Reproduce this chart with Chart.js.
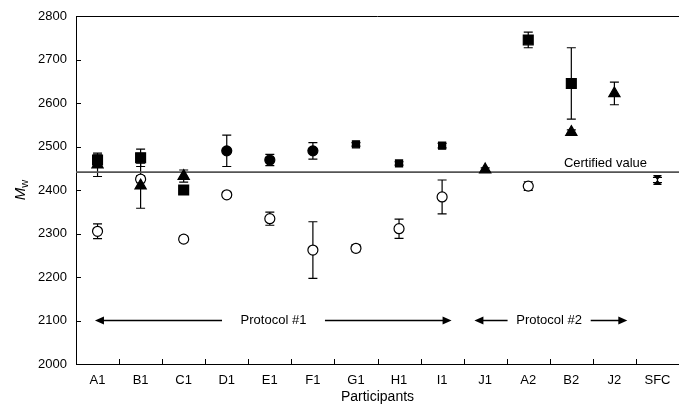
<!DOCTYPE html>
<html>
<head>
<meta charset="utf-8">
<script src="https://cdn.jsdelivr.net/npm/chart.js@4.4.0/dist/chart.umd.min.js"></script>
<style>
  html, body { margin: 0; padding: 0; background: #fff; }
  #wrap { width: 679px; height: 408px; }
</style>
</head>
<body>
<div id="wrap"><canvas id="mwChart"></canvas></div>
<script>
// Participants and values (Mw, with +/- error)
const participants = ['A1', 'B1', 'C1', 'D1', 'E1', 'F1', 'G1', 'H1', 'I1', 'J1', 'A2', 'B2', 'J2', 'SFC'];
const yTicks = [2000, 2100, 2200, 2300, 2400, 2500, 2600, 2700, 2800];
const certifiedValue = 2441;

const squareVals  = [2469, 2474, 2400, null, null, null, null, null, null, null, 2745, 2645, null, null];
const squareErr   = [12,   20,   4,    null, null, null, null, null, null, null, 18,   82,   null, null];
const smallSqVals = [null, null, null, null, null, null, 2505, 2461, 2502, null, null, null, null, null];
const smallSqErr  = [null, null, null, null, null, null, 4,    4,    5,    null, null, null, null, null];
const circleVals  = [null, null, null, 2490, 2469, 2490, null, null, null, null, null, null, null, null];
const circleErr   = [null, null, null, 36,   13,   19,   null, null, null, null, null, null, null, null];
const triVals     = [2458, 2410, 2432, null, null, null, null, null, null, 2447, null, 2533, 2622, null];
const triErr      = [27,   52,   14,   null, null, null, null, null, null, 4,    null, 5,    26,   null];
const openVals    = [2305, 2425, 2287, 2389, 2334, 2262, 2266, 2311, 2384, null, 2409, null, null, null];
const openErr     = [17,   8,    7,    6,    15,   65,   8,    22,   39,   null, 10,   null, null, null];
const sfcVals     = [null, null, null, null, null, null, null, null, null, null, null, null, null, 2423];
const sfcErr      = [null, null, null, null, null, null, null, null, null, null, null, null, null, 6];

// protocol arrows, in category units
const protocols = [
    { label: 'Protocol #1', from: -0.06, to: 8.22, gapFrom: 2.89, gapTo: 5.28, value: 2100 },
    { label: 'Protocol #2', from: 8.75, to: 12.3, gapFrom: 9.52, gapTo: 11.45, value: 2100 }
];

const FONT = '"Liberation Sans", Arial, Helvetica, sans-serif';

function series(data, err, style, radius, fill) {
    return {
        data: data,
        errors: err,
        showLine: false,
        pointStyle: style,
        pointRadius: radius,
        pointHoverRadius: radius,
        pointBackgroundColor: fill,
        pointBorderColor: '#000',
        pointBorderWidth: 1.2
    };
}

const errorBarsPlugin = {
    id: 'errorBars',
    beforeDatasetsDraw(chart) {
        const { ctx, scales: { x, y } } = chart;
        ctx.save();
        ctx.strokeStyle = '#000';
        ctx.lineWidth = 1.2;
        chart.data.datasets.forEach(ds => {
            ds.data.forEach((v, i) => {
                if (v === null || !ds.errors[i]) return;
                const px = x.getPixelForValue(i);
                const top = y.getPixelForValue(v + ds.errors[i]);
                const bot = y.getPixelForValue(v - ds.errors[i]);
                ctx.beginPath();
                ctx.moveTo(px, top); ctx.lineTo(px, bot);
                ctx.moveTo(px - 4.5, top); ctx.lineTo(px + 4.5, top);
                ctx.moveTo(px - 4.5, bot); ctx.lineTo(px + 4.5, bot);
                ctx.stroke();
            });
        });
        ctx.restore();
    },
    afterDatasetsDraw(chart) {
        // hourglass marker for the SFC series
        const { ctx, scales: { x, y } } = chart;
        ctx.save();
        ctx.fillStyle = '#000';
        chart.data.datasets.forEach(ds => {
            if (!ds.hourglass) return;
            ds.data.forEach((v, i) => {
                if (v === null) return;
                const px = x.getPixelForValue(i), py = y.getPixelForValue(v);
                ctx.beginPath();
                ctx.moveTo(px - 4.5, py - 5); ctx.lineTo(px + 4.5, py - 5); ctx.lineTo(px, py); ctx.closePath();
                ctx.moveTo(px - 4.5, py + 5); ctx.lineTo(px + 4.5, py + 5); ctx.lineTo(px, py); ctx.closePath();
                ctx.fill();
            });
        });
        ctx.restore();
    }
};

const decorPlugin = {
    id: 'decor',
    beforeDatasetsDraw(chart) {
        const { ctx, chartArea: a, scales: { x, y } } = chart;
        ctx.save();
        // frame top + inward ticks
        ctx.strokeStyle = '#000';
        ctx.lineWidth = 1;
        ctx.beginPath();
        ctx.moveTo(a.left, a.top + 0.5); ctx.lineTo(a.right, a.top + 0.5);
        yTicks.forEach(t => {
            const py = Math.round(y.getPixelForValue(t)) + 0.5;
            ctx.moveTo(a.left, py); ctx.lineTo(a.left + 5, py);
        });
        for (let i = 1; i < participants.length; i++) {
            const px = Math.round((x.getPixelForValue(i - 1) + x.getPixelForValue(i)) / 2) + 0.5;
            ctx.moveTo(px, a.bottom); ctx.lineTo(px, a.bottom - 5);
        }
        ctx.stroke();

        // certified value line
        const cy = y.getPixelForValue(certifiedValue);
        ctx.strokeStyle = '#555';
        ctx.lineWidth = 1.6;
        ctx.beginPath();
        ctx.moveTo(a.left, cy); ctx.lineTo(a.right, cy);
        ctx.stroke();
        ctx.fillStyle = '#000';
        ctx.font = '13px ' + FONT;
        ctx.textAlign = 'right';
        ctx.textBaseline = 'alphabetic';
        ctx.fillText('Certified value', a.right - 32, cy - 5);

        // protocol arrows
        ctx.strokeStyle = '#000';
        ctx.lineWidth = 1.3;
        protocols.forEach(p => {
            const py = y.getPixelForValue(p.value);
            const cat = u => x.getPixelForValue(0) + u * (x.getPixelForValue(1) - x.getPixelForValue(0));
            const x0 = cat(p.from), x1 = cat(p.to), g0 = cat(p.gapFrom), g1 = cat(p.gapTo);
            ctx.beginPath();
            ctx.moveTo(x0 + 6, py); ctx.lineTo(g0, py);
            ctx.moveTo(g1, py); ctx.lineTo(x1 - 6, py);
            ctx.stroke();
            ctx.beginPath();
            ctx.moveTo(x0, py); ctx.lineTo(x0 + 9, py - 4); ctx.lineTo(x0 + 9, py + 4); ctx.closePath();
            ctx.moveTo(x1, py); ctx.lineTo(x1 - 9, py - 4); ctx.lineTo(x1 - 9, py + 4); ctx.closePath();
            ctx.fill();
            ctx.textAlign = 'center';
            ctx.textBaseline = 'middle';
            ctx.fillText(p.label, (g0 + g1) / 2, py);
        });

        // y axis title: M_w
        ctx.translate(20, (a.top + a.bottom) / 2);
        ctx.rotate(-Math.PI / 2);
        ctx.textAlign = 'left';
        ctx.textBaseline = 'alphabetic';
        ctx.font = '11px ' + FONT;
        const sw = ctx.measureText('w').width;
        ctx.font = 'italic 15px ' + FONT;
        const mw = ctx.measureText('M').width;
        ctx.fillText('M', -(mw + sw) / 2, 5);
        ctx.font = '11px ' + FONT;
        ctx.fillText('w', -(mw + sw) / 2 + mw, 8);
        ctx.restore();
    }
};

new Chart(document.getElementById('mwChart'), {
    type: 'line',
    data: {
        labels: participants,
        datasets: [
            series(squareVals, squareErr, 'rect', 7, '#000'),
            series(smallSqVals, smallSqErr, 'rect', 5, '#000'),
            series(circleVals, circleErr, 'circle', 5, '#000'),
            series(triVals, triErr, 'triangle', 6.5, '#000'),
            series(openVals, openErr, 'circle', 5, '#fff'),
            Object.assign(series(sfcVals, sfcErr, 'circle', 0, '#000'), { hourglass: true })
        ]
    },
    options: {
        responsive: true,
        maintainAspectRatio: false,
        animation: false,
        layout: { autoPadding: false, padding: { top: 16, right: 0, left: 0, bottom: 0 } },
        plugins: {
            legend: { display: false },
            tooltip: { enabled: false }
        },
        scales: {
            x: {
                offset: true,
                grid: { display: false, drawTicks: false },
                border: { display: true, color: '#000', width: 1 },
                ticks: { color: '#000', font: { family: FONT, size: 13 }, padding: 9, maxRotation: 0, autoSkip: false },
                title: { display: true, text: 'Participants', color: '#000', font: { family: FONT, size: 14 }, padding: { top: 0, bottom: 2 } },
                afterFit(scale) {
                    scale.height = 44;
                    scale.paddingLeft = 0;
                    scale.paddingRight = 0;
                }
            },
            y: {
                min: 2000,
                max: 2800,
                grid: { display: false, drawTicks: false },
                border: { display: true, color: '#000', width: 1 },
                ticks: {
                    stepSize: 100,
                    color: '#000',
                    font: { family: FONT, size: 13 },
                    padding: 9,
                    callback: v => String(v)
                },
                afterFit(scale) {
                    scale.width = 76;
                    scale.paddingTop = 0;
                    scale.paddingBottom = 0;
                }
            }
        }
    },
    plugins: [errorBarsPlugin, decorPlugin]
});
</script>
</body>
</html>
